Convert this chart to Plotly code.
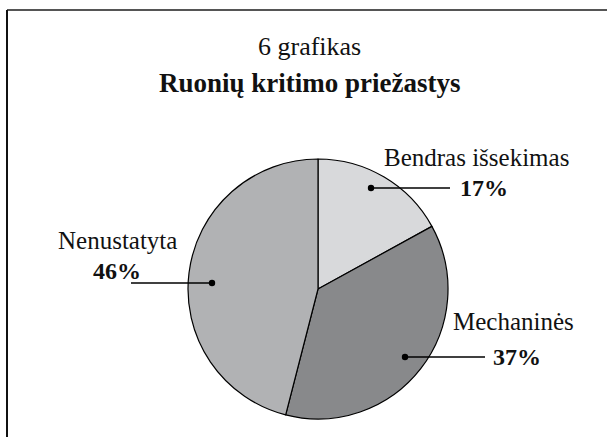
import plotly.graph_objects as go

# Data
categories = ["Bendras išsekimas", "Mechaninės", "Nenustatyta"]
values = [17, 37, 46]
value_labels = ["17%", "37%", "46%"]
title_line1 = "6 grafikas"
title_line2 = "Ruonių kritimo priežastys"

colors = ["#d8d9db", "#88898b", "#b1b2b4"]

W, H = 607, 437
FONT = "Liberation Serif, Times New Roman, serif"


def px(x, y):
    return x / W, 1 - y / H


cx, cy, r = 318, 289, 130

fig = go.Figure(
    go.Pie(
        labels=categories,
        values=values,
        sort=False,
        direction="clockwise",
        rotation=0,
        marker=dict(colors=colors, line=dict(color="#000000", width=1.2)),
        textinfo="none",
        hoverinfo="none",
        showlegend=False,
        domain=dict(
            x=[(cx - r) / W, (cx + r) / W],
            y=[1 - (cy + r) / H, 1 - (cy - r) / H],
        ),
    )
)

annotations = []


def add_text(text, x, y, size, bold=False, xanchor="center"):
    xx, yy = px(x, y)
    annotations.append(
        dict(
            text=f"<b>{text}</b>" if bold else text,
            x=xx, y=yy, xref="paper", yref="paper",
            xanchor=xanchor, yanchor="middle",
            showarrow=False,
            font=dict(family=FONT, size=size, color="#111111"),
        )
    )


add_text(title_line1, 309, 46, 26)
add_text(title_line2, 310, 83, 27, bold=True)

add_text(categories[0], 382, 157, 25, xanchor="left")
add_text(value_labels[0], 458, 188, 24, bold=True, xanchor="left")
add_text(categories[1], 451, 321, 25, xanchor="left")
add_text(value_labels[1], 491, 357, 24, bold=True, xanchor="left")
add_text(categories[2], 117, 240, 25)
add_text(value_labels[2], 117, 271, 24, bold=True)

shapes = []


def line(x0, y0, x1, y1, color="#000000", width=1.5):
    a = px(x0, y0)
    b = px(x1, y1)
    shapes.append(dict(type="line", xref="paper", yref="paper",
                       x0=a[0], y0=a[1], x1=b[0], y1=b[1],
                       line=dict(color=color, width=width)))


def dot(x, y, rr=3.2):
    a = px(x - rr, y - rr)
    b = px(x + rr, y + rr)
    shapes.append(dict(type="circle", xref="paper", yref="paper",
                       x0=a[0], y0=b[1], x1=b[0], y1=a[1],
                       fillcolor="#000000", line=dict(color="#000000", width=0)))


# leader lines
line(371, 188, 450, 188)
dot(371, 188)
line(131, 283, 212, 283)
dot(212, 283)
line(405, 357, 485, 357)
dot(405, 357)

# frame
line(7, 10, 607, 10, color="#555555", width=2)
line(7, 10, 7, 437, color="#111111", width=2)

fig.update_layout(
    width=W, height=H,
    margin=dict(l=0, r=0, t=0, b=0),
    paper_bgcolor="#ffffff",
    plot_bgcolor="#ffffff",
    annotations=annotations,
    shapes=shapes,
)

fig.write_html(
    "out.html",
    config={"displayModeBar": False},
    post_script="document.body.style.margin='0';document.body.style.overflow='hidden';",
)
